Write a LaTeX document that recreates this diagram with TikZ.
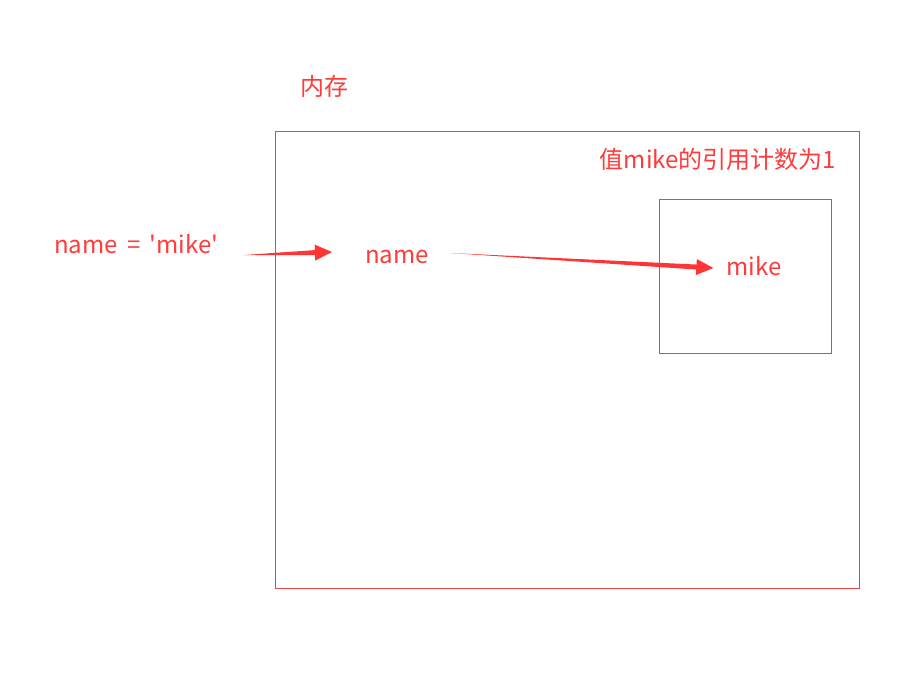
\documentclass[tikz,border=0pt]{standalone}
\usepackage{fontspec}
\setmainfont{Noto Sans CJK SC}
\usepackage{tikz}
\usetikzlibrary{calc}
\definecolor{txt}{HTML}{FF3B3B}
\definecolor{frame}{HTML}{E64545}
\definecolor{arrred}{HTML}{FF3535}
\tikzset{
  lbl/.style={text=txt,font=\fontsize{24}{28}\selectfont,inner sep=0pt,anchor=base},
  memframe/.style={draw=frame,line width=1pt},
  tarr/.style={fill=arrred}}
% tapered arrow: thin tail at #1, filled head at #2
\newcommand\taper[2]{\fill[tarr] (#1) -- ($(#2)!17pt!(#1)!2.5pt!-90:(#2)$) -- ($(#2)!17pt!(#1)!8pt!-90:(#2)$) -- (#2) -- ($(#2)!17pt!(#1)!8pt!90:(#2)$) -- ($(#2)!17pt!(#1)!2.5pt!90:(#2)$) -- cycle;}

\begin{document}
\begin{tikzpicture}[x=1pt,y=1pt]
\useasboundingbox[fill=white] (0,0) rectangle (920,-673);
\draw[memframe] (275,-131) rectangle (859,-588);
\draw[memframe] (659,-199) rectangle (831,-353);
\node[lbl] (mem) at (324,-95) {内存};
\node[lbl] (rc) at (718,-168) {值mike的引用计数为1};
\node[lbl] (code) at (136,-253) {name \,=\, \textquotesingle mike\textquotesingle};
\node[lbl] (var) at (397,-263) {name};
\node[lbl] (val) at (754,-275) {mike};
\taper{[xshift=26pt,yshift=-2pt]code.base east}{[xshift=-33pt,yshift=11pt]var.base west}
\taper{[xshift=21pt,yshift=10pt]var.base east}{[xshift=-13pt,yshift=7pt]val.base west}
\end{tikzpicture}
\end{document}
